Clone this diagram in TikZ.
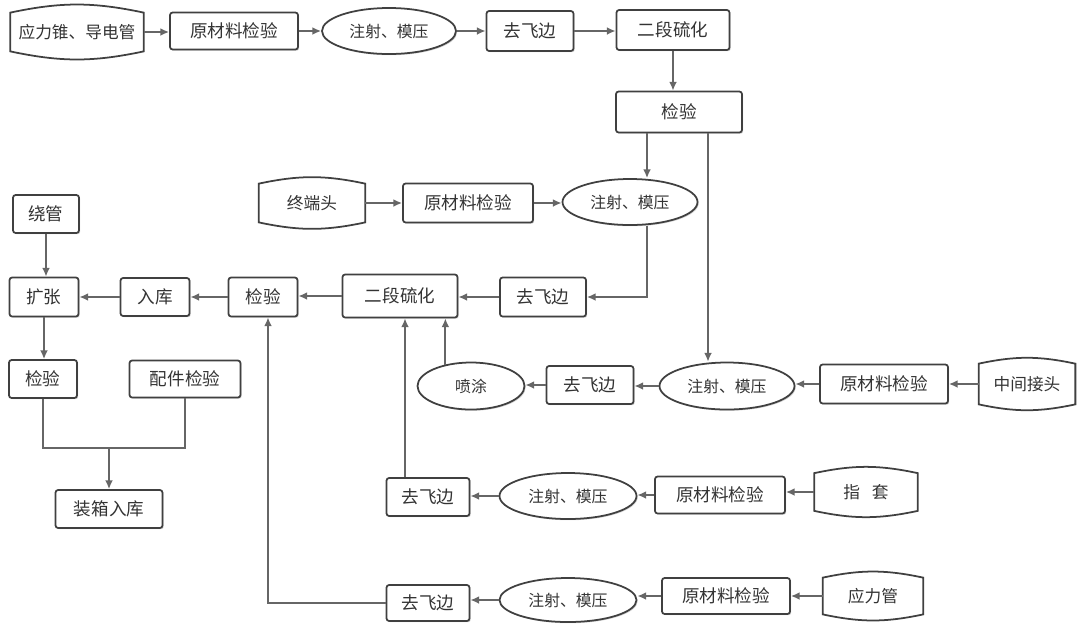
\documentclass[tikz,border=0pt]{standalone}
\usepackage{fontspec}
\newfontfamily\cjk{Noto Sans CJK SC}
\usetikzlibrary{arrows.meta,shapes.geometric,shadows}
\tikzset{
  base/.style={inner sep=0pt, font=\cjk\fontsize{10}{12}\selectfont, text=black!80},
  sz/.style 2 args={minimum width=#1*0.02cm, minimum height=#2*0.02cm},
  box/.style={base, draw=black!75, line width=1pt, rounded corners=1.5pt, fill=white,
    drop shadow={shadow xshift=0.7pt, shadow yshift=-0.7pt, opacity=0.35}},
  oval/.style={base, ellipse, draw=black!75, line width=1pt, fill=white,
    font=\cjk\fontsize{9}{11}\selectfont,
    drop shadow={shadow xshift=0.7pt, shadow yshift=-0.7pt, opacity=0.35}},
  src/.style={base, font=\cjk\fontsize{9.5}{11}\selectfont},
  srcline/.style={draw=black!75, line width=1pt},
  ln/.style={draw=black!60, line width=1.1pt},
  arr/.style={ln, -{Latex[length=5pt,width=4.5pt]}},
}
\newcommand\srcoutline[1]{\draw[srcline] (#1.north west) to[bend left=12] (#1.north east) -- (#1.south east) to[bend left=12] (#1.south west) -- cycle;}
\begin{document}
\begin{tikzpicture}[x=0.02cm,y=-0.02cm]
\useasboundingbox (0,0) rectangle (1077,623);
% row 1
\node[src, sz={133}{38}] (s1) at (77,32) {应力锥、导电管};
\node[box, sz={128}{37}] (r1) at (234,31) {原材料检验};
\node[oval, sz={134}{46}] (i1) at (389,31) {注射、模压};
\node[box, sz={87}{40}] (t1) at (530,31) {去飞边};
\node[box, sz={113}{40}] (c1) at (673,30) {二段硫化};
\node[box, sz={126}{41}] (k1) at (679,112) {检验};
% row 3
\node[src, sz={106}{38}] (s2) at (312,203) {终端头};
\node[box, sz={130}{39}] (r2) at (468,203) {原材料检验};
\node[oval, sz={135}{46}] (i2) at (630,202) {注射、模压};
\node[box, sz={66}{38}] (w) at (46,214) {绕管};
% row 4
\node[box, sz={69}{39}] (e) at (44,297) {扩张};
\node[box, sz={69}{38}] (st) at (155,297) {入库};
\node[box, sz={69}{39}] (k2) at (263,297) {检验};
\node[box, sz={115}{43}] (c2) at (400,296) {二段硫化};
\node[box, sz={86}{39}] (t2) at (543,297) {去飞边};
% row 5
\node[box, sz={68}{38}] (k3) at (43,379) {检验};
\node[box, sz={111}{37}] (acc) at (185,379) {配件检验};
\node[box, sz={107}{38}] (pk) at (109,509) {装箱入库};
\node[oval, sz={107}{47}] (sp) at (471,386) {喷涂};
\node[box, sz={87}{38}] (t3) at (590,385) {去飞边};
\node[oval, sz={135}{47}] (i3) at (727,386) {注射、模压};
\node[box, sz={128}{39}] (r3) at (884,384) {原材料检验};
\node[src, sz={96}{40}] (s3) at (1027,384) {中间接头};
% row 6
\node[box, sz={83}{38}] (t4) at (428,497) {去飞边};
\node[oval, sz={137}{46}] (i4) at (568,496) {注射、模压};
\node[box, sz={130}{37}] (r4) at (720,495) {原材料检验};
\node[src, sz={103}{37}] (s4) at (866,492) {指\hspace{0.7em}套};
% row 7
\node[box, sz={83}{36}] (t5) at (428,603) {去飞边};
\node[oval, sz={137}{44}] (i5) at (568,600) {注射、模压};
\node[box, sz={128}{36}] (r5) at (726,596) {原材料检验};
\node[src, sz={100}{36}] (s5) at (873,596) {应力管};
% source outlines
\srcoutline{s1}\srcoutline{s2}\srcoutline{s3}\srcoutline{s4}\srcoutline{s5}
% helper x positions
\coordinate (xa) at (647,0);
\coordinate (xb) at (708,0);
\coordinate (xd) at (405,0);
\coordinate (xe) at (268,0);
\coordinate (j) at (109,448);
% row 1 connectors
\draw[arr] (s1.east) -- (s1.east -| r1.west);
\draw[arr] (r1.east) -- (r1.east -| i1.west);
\draw[arr] (i1.east) -- (i1.east -| t1.west);
\draw[arr] (t1.east) -- (t1.east -| c1.west);
\draw[arr] (c1.south) -- (c1.south |- k1.north);
\draw[arr] (k1.south -| xa) -- (i2.north -| xa);
\draw[arr] (k1.south -| xb) -- (i3.north -| xb);
% row 3
\draw[arr] (s2.east) -- (s2.east -| r2.west);
\draw[arr] (r2.east) -- (r2.east -| i2.west);
\draw[arr] (i2.south -| xa) |- (t2.east);
% row 4
\draw[arr] (t2.west) -- (t2.west -| c2.east);
\draw[arr] (c2.west) -- (c2.west -| k2.east);
\draw[arr] (k2.west) -- (k2.west -| st.east);
\draw[arr] (st.west) -- (st.west -| e.east);
\draw[arr] (w.south) -- (w.south |- e.north);
\draw[arr] (e.south) -- (e.south |- k3.north);
% assembly
\draw[ln] (k3.south) -- (k3.south |- j) -- (acc.south |- j) -- (acc.south);
\draw[arr] (pk.north |- j) -- (pk.north);
% row 5
\draw[arr] (s3.west) -- (s3.west -| r3.east);
\draw[arr] (r3.west) -- (r3.west -| i3.east);
\draw[arr] (i3.west) -- (i3.west -| t3.east);
\draw[arr] (t3.west) -- (t3.west -| sp.east);
\draw[arr] (sp.140) -- (sp.140 |- c2.south);
% row 6
\draw[arr] (s4.west) -- (s4.west -| r4.east);
\draw[arr] (r4.west) -- (r4.west -| i4.east);
\draw[arr] (i4.west) -- (i4.west -| t4.east);
\draw[arr] (t4.north -| xd) -- (c2.south -| xd);
% row 7
\draw[arr] (s5.west) -- (s5.west -| r5.east);
\draw[arr] (r5.west) -- (r5.west -| i5.east);
\draw[arr] (i5.west) -- (i5.west -| t5.east);
\draw[arr] (t5.west) -| (k2.south -| xe);
\end{tikzpicture}
\end{document}
